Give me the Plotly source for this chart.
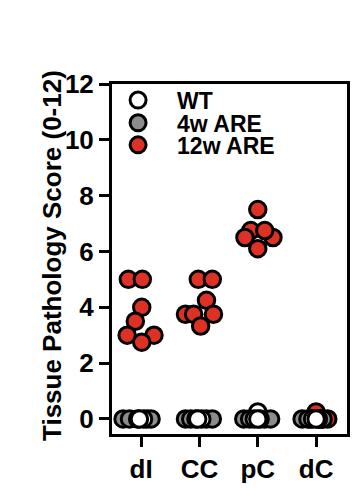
import plotly.graph_objects as go

# ---- data ----
categories = ["dI", "CC", "pC", "dC"]
y_ticks = [0, 2, 4, 6, 8, 10, 12]

# WT (white)
wt_cat = ["dI", "dI", "dI", "CC", "CC", "CC", "pC", "pC", "pC", "pC", "dC", "dC", "dC"]
wt_val = [0, 0, 0, 0, 0, 0, 0.25, 0, 0, 0, 0, 0, 0]
wt_jit = [-0.06, 0.04, -0.03, -0.06, 0.04, -0.03, 0.0, -0.06, 0.04, 0.0, -0.06, 0.04, 0.0]

# 4w ARE (grey)
g_cat = ["dI"] * 4 + ["CC"] * 4 + ["pC"] * 4 + ["dC"] * 4
g_val = [0] * 16
g_jit = [-0.31, -0.2, 0.1, 0.17,
         -0.24, -0.15, 0.12, 0.22,
         -0.24, -0.14, 0.12, 0.22,
         -0.24, -0.14, 0.08, 0.12]

# 12w ARE (red)
r_cat = ["dI"] * 7 + ["CC"] * 7 + ["pC"] * 6 + ["dC"] * 5
r_val = [5, 5, 4, 3.5, 3, 3, 2.75,
         5, 5, 4.25, 3.75, 3.75, 3.75, 3.33,
         6.75, 6.5, 6.5, 6.75, 6.1, 7.5,
         0.25, 0, 0, 0, 0]
r_jit = [-0.22, 0.02, 0.01, -0.1, -0.24, 0.22, 0.01,
         -0.02, 0.22, 0.12, -0.24, -0.1, 0.24, 0.02,
         -0.12, 0.26, -0.22, 0.12, 0.0, 0.0,
         0.0, 0.2, -0.1, 0.05, 0.1]

RED = "#de3126"
GREY = "#8c8c8c"
FONT = "Liberation Sans, Arial, sans-serif"

def xs(cats, jit):
    return [categories.index(c) + j for c, j in zip(cats, jit)]

fig = go.Figure()
mk = dict(size=16.5, line=dict(color="black", width=3))
fig.add_trace(go.Scatter(x=xs(r_cat, r_jit), y=r_val, mode="markers", name="12w ARE",
                         marker=dict(color=RED, **mk), legend="legend3"))
fig.add_trace(go.Scatter(x=xs(g_cat, g_jit), y=g_val, mode="markers", name="4w ARE",
                         marker=dict(color=GREY, **mk), legend="legend2"))
fig.add_trace(go.Scatter(x=xs(wt_cat, wt_jit), y=wt_val, mode="markers", name="WT",
                         marker=dict(color="white", **mk), legend="legend"))

lg = dict(bgcolor="rgba(0,0,0,0)", borderwidth=0, itemwidth=68,
          font=dict(family=FONT, size=23, color="black", weight="bold"),
          xanchor="left", yanchor="middle", x=-0.055, itemsizing="trace")
fig.update_layout(
    width=364, height=497,
    margin=dict(l=112, r=17, t=84, b=63, autoexpand=False),
    paper_bgcolor="white", plot_bgcolor="white",
    showlegend=True,
    legend=dict(lg, y=0.954),
    legend2=dict(lg, y=0.889),
    legend3=dict(lg, y=0.826),
    font=dict(family=FONT, color="black", weight="bold"),
    annotations=[dict(text="Tissue Pathology Score (0-12)", textangle=-90,
                      xref="paper", yref="paper", x=0, y=0.5, xanchor="center", yanchor="middle",
                      xshift=-60, yshift=3, showarrow=False,
                      font=dict(family=FONT, size=26, color="black", weight="bold"))],
)
fig.update_xaxes(range=[-0.5, 3.53], tickvals=list(range(len(categories))), ticktext=categories,
                 showgrid=False, zeroline=False, showline=True, linecolor="black", linewidth=3,
                 mirror=True, ticks="outside", ticklen=10, tickwidth=3, tickcolor="black",
                 tickfont=dict(family=FONT, size=26, color="black", weight="bold"))
fig.update_yaxes(range=[-0.54, 12], tickvals=y_ticks,
                 showgrid=False, zeroline=False, showline=True, linecolor="black", linewidth=3,
                 mirror=True, ticks="outside", ticklen=10, tickwidth=3, tickcolor="black",
                 tickfont=dict(family=FONT, size=26, color="black", weight="bold"))
fig.write_html("out.html", config={"displayModeBar": False},
               post_script="document.body.style.margin='0px';")
